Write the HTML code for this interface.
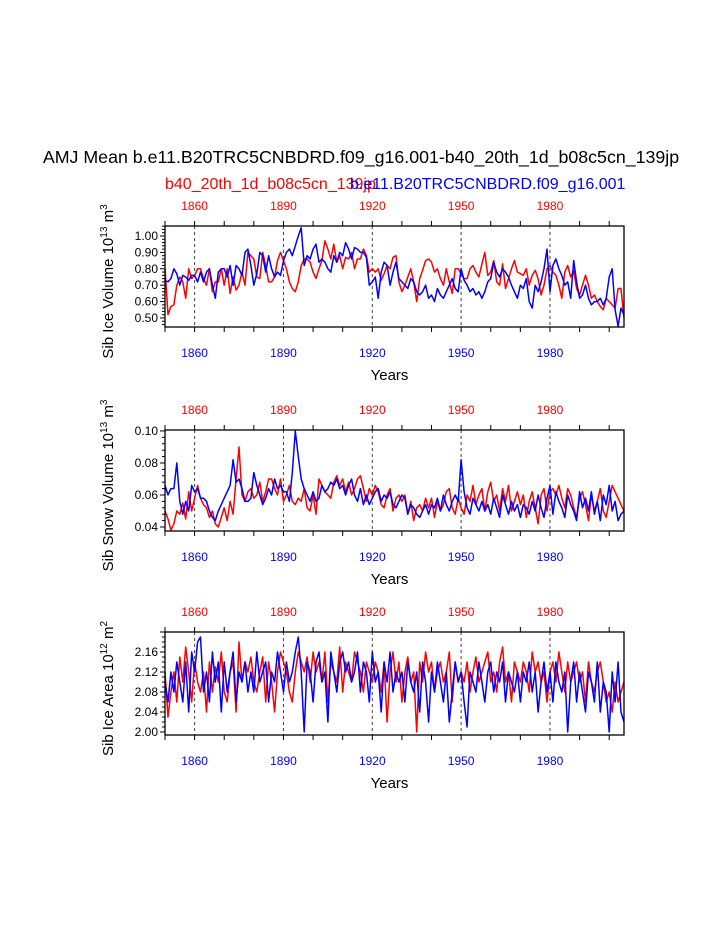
<!DOCTYPE html>
<html><head><meta charset="utf-8"><style>
html,body{margin:0;padding:0;background:#fff;}
svg{display:block;font-family:"Liberation Sans",Arial,sans-serif;}
</style></head><body>
<svg id="c" width="723" height="935" xmlns="http://www.w3.org/2000/svg">
<text x="361" y="163" text-anchor="middle" font-size="17.8">AMJ Mean b.e11.B20TRC5CNBDRD.f09_g16.001-b40_20th_1d_b08c5cn_139jp</text>
<text x="165" y="189" font-size="16" fill="#f00">b40_20th_1d_b08c5cn_139jp</text>
<text x="350" y="189" font-size="16" fill="#00f">b.e11.B20TRC5CNBDRD.f09_g16.001</text>
</svg>
<script>
const years = []; for (let y = 1850; y <= 2005; y++) years.push(y);
const topTickLabels = [1860, 1890, 1920, 1950, 1980];
const volRed = [0.80,0.52,0.57,0.58,0.70,0.75,0.72,0.62,0.80,0.74,
0.76,0.80,0.80,0.74,0.70,0.80,0.66,0.72,0.72,0.80,
0.70,0.80,0.65,0.75,0.67,0.70,0.78,0.70,0.90,0.88,
0.86,0.75,0.74,0.90,0.82,0.72,0.72,0.75,0.85,0.90,
0.85,0.80,0.72,0.68,0.66,0.72,0.82,0.86,0.86,0.84,
0.78,0.74,0.80,0.85,0.97,0.92,0.86,0.95,0.84,0.88,
0.80,0.87,0.86,0.90,0.80,0.86,0.86,0.92,0.88,0.78,
0.80,0.78,0.80,0.73,0.77,0.82,0.80,0.87,0.88,0.72,
0.66,0.70,0.75,0.80,0.72,0.60,0.74,0.79,0.85,0.86,
0.84,0.78,0.80,0.74,0.70,0.80,0.72,0.65,0.80,0.80,
0.77,0.74,0.74,0.80,0.82,0.78,0.75,0.83,0.90,0.76,
0.78,0.85,0.72,0.70,0.83,0.68,0.74,0.80,0.85,0.78,
0.77,0.76,0.80,0.70,0.76,0.79,0.74,0.64,0.70,0.80,
0.82,0.78,0.76,0.70,0.62,0.78,0.82,0.75,0.79,0.68,
0.64,0.70,0.76,0.70,0.62,0.64,0.60,0.57,0.55,0.62,
0.60,0.58,0.56,0.68,0.68,0.50];
const volBlue = [0.73,0.72,0.74,0.80,0.77,0.70,0.76,0.75,0.73,0.76,
0.76,0.72,0.78,0.72,0.78,0.80,0.70,0.62,0.78,0.80,
0.80,0.75,0.82,0.70,0.82,0.80,0.76,0.90,0.92,0.82,
0.70,0.77,0.90,0.88,0.78,0.88,0.80,0.75,0.78,0.76,
0.85,0.90,0.92,0.88,0.94,1.00,1.05,0.82,0.88,0.86,
0.92,0.95,0.84,0.86,0.84,0.80,0.78,0.88,0.84,0.90,
0.88,0.96,0.92,0.86,0.93,0.92,0.90,0.90,0.87,0.70,
0.72,0.75,0.62,0.78,0.84,0.82,0.70,0.78,0.84,0.74,
0.72,0.70,0.68,0.74,0.72,0.66,0.64,0.66,0.70,0.62,
0.64,0.60,0.68,0.64,0.62,0.66,0.70,0.74,0.68,0.66,
0.80,0.73,0.70,0.66,0.68,0.64,0.66,0.62,0.66,0.72,
0.74,0.84,0.78,0.75,0.80,0.78,0.75,0.70,0.66,0.62,
0.70,0.68,0.74,0.60,0.56,0.70,0.66,0.72,0.80,0.92,
0.66,0.82,0.86,0.80,0.76,0.70,0.72,0.62,0.85,0.72,
0.62,0.64,0.70,0.62,0.58,0.60,0.60,0.62,0.58,0.62,
0.75,0.80,0.55,0.45,0.56,0.52];
const snowRed = [0.050,0.045,0.038,0.042,0.050,0.048,0.055,0.045,0.062,0.050,
0.058,0.066,0.058,0.054,0.052,0.046,0.050,0.042,0.040,0.046,
0.052,0.044,0.056,0.048,0.070,0.090,0.060,0.056,0.062,0.064,
0.058,0.060,0.068,0.056,0.062,0.070,0.070,0.064,0.060,0.070,
0.056,0.060,0.066,0.056,0.054,0.058,0.056,0.064,0.052,0.050,
0.060,0.048,0.070,0.066,0.062,0.060,0.058,0.068,0.072,0.066,
0.070,0.062,0.068,0.060,0.064,0.070,0.072,0.064,0.056,0.064,
0.060,0.066,0.062,0.054,0.052,0.060,0.064,0.050,0.058,0.060,
0.056,0.060,0.048,0.056,0.044,0.052,0.054,0.050,0.058,0.052,
0.058,0.046,0.056,0.050,0.054,0.062,0.064,0.052,0.048,0.058,
0.052,0.048,0.060,0.056,0.066,0.054,0.060,0.064,0.050,0.062,
0.068,0.056,0.060,0.050,0.064,0.056,0.066,0.050,0.056,0.062,
0.054,0.060,0.046,0.056,0.062,0.052,0.042,0.060,0.064,0.050,
0.062,0.064,0.060,0.066,0.058,0.052,0.064,0.060,0.052,0.046,
0.058,0.062,0.054,0.044,0.060,0.050,0.056,0.064,0.050,0.046,
0.056,0.066,0.062,0.058,0.054,0.050];
const snowBlue = [0.066,0.060,0.064,0.064,0.080,0.056,0.048,0.056,0.050,0.066,
0.062,0.064,0.058,0.058,0.056,0.050,0.046,0.044,0.050,0.054,
0.058,0.062,0.066,0.082,0.068,0.070,0.064,0.056,0.056,0.058,
0.074,0.066,0.060,0.054,0.058,0.064,0.060,0.070,0.064,0.066,
0.062,0.062,0.056,0.074,0.100,0.084,0.070,0.064,0.060,0.056,
0.062,0.056,0.058,0.066,0.062,0.064,0.068,0.066,0.070,0.064,
0.066,0.060,0.066,0.070,0.060,0.056,0.064,0.054,0.060,0.054,
0.058,0.062,0.064,0.056,0.060,0.058,0.062,0.054,0.052,0.056,
0.060,0.058,0.048,0.054,0.052,0.048,0.046,0.050,0.054,0.048,
0.054,0.052,0.058,0.050,0.060,0.054,0.050,0.056,0.060,0.056,
0.082,0.062,0.052,0.048,0.058,0.054,0.050,0.056,0.050,0.054,
0.048,0.058,0.052,0.046,0.060,0.054,0.048,0.056,0.050,0.054,
0.046,0.054,0.052,0.048,0.056,0.050,0.060,0.052,0.046,0.058,
0.066,0.048,0.062,0.056,0.052,0.046,0.060,0.054,0.050,0.044,
0.062,0.052,0.058,0.050,0.062,0.048,0.056,0.044,0.060,0.054,
0.066,0.050,0.056,0.044,0.048,0.050];
const areaRed = [2.12,2.03,2.08,2.12,2.06,2.15,2.10,2.17,2.12,2.06,
2.14,2.10,2.08,2.12,2.04,2.14,2.08,2.13,2.10,2.16,
2.08,2.06,2.12,2.14,2.04,2.18,2.10,2.14,2.12,2.15,
2.10,2.08,2.12,2.15,2.06,2.14,2.10,2.04,2.12,2.16,
2.14,2.12,2.08,2.06,2.12,2.16,2.14,2.12,2.15,2.10,
2.16,2.12,2.14,2.10,2.16,2.06,2.14,2.12,2.10,2.17,
2.08,2.14,2.12,2.10,2.16,2.14,2.12,2.08,2.14,2.12,
2.10,2.14,2.12,2.08,2.14,2.02,2.12,2.16,2.10,2.14,
2.06,2.12,2.15,2.10,2.12,2.00,2.14,2.10,2.16,2.12,
2.14,2.08,2.12,2.14,2.10,2.12,2.16,2.06,2.14,2.10,
2.12,2.10,2.14,2.08,2.12,2.15,2.10,2.12,2.14,2.16,
2.10,2.12,2.08,2.14,2.17,2.10,2.12,2.06,2.14,2.12,
2.10,2.14,2.12,2.08,2.16,2.12,2.14,2.10,2.12,2.06,
2.12,2.14,2.10,2.16,2.12,2.08,2.14,2.10,2.12,2.14,
2.10,2.12,2.06,2.14,2.10,2.08,2.12,2.14,2.10,2.06,
2.08,2.04,2.10,2.06,2.08,2.10];
const areaBlue = [2.10,2.06,2.12,2.08,2.14,2.10,2.06,2.14,2.04,2.16,
2.12,2.18,2.19,2.08,2.12,2.06,2.16,2.10,2.14,2.04,
2.14,2.08,2.12,2.16,2.06,2.12,2.10,2.14,2.08,2.12,
2.08,2.16,2.10,2.12,2.14,2.06,2.12,2.10,2.16,2.12,
2.08,2.14,2.10,2.12,2.16,2.19,2.12,2.00,2.14,2.12,
2.06,2.14,2.16,2.10,2.12,2.02,2.16,2.12,2.08,2.14,
2.16,2.12,2.14,2.10,2.12,2.16,2.08,2.14,2.12,2.06,
2.16,2.10,2.12,2.04,2.14,2.10,2.16,2.08,2.12,2.10,
2.12,2.06,2.14,2.10,2.08,2.12,2.04,2.14,2.10,2.02,
2.12,2.08,2.14,2.10,2.06,2.12,2.02,2.08,2.14,2.10,
2.12,2.06,2.01,2.12,2.10,2.08,2.14,2.10,2.06,2.12,
2.14,2.08,2.12,2.10,2.14,2.06,2.12,2.10,2.08,2.12,
2.06,2.12,2.10,2.14,2.08,2.12,2.04,2.10,2.14,2.08,
2.12,2.06,2.14,2.10,2.08,2.12,2.00,2.10,2.14,2.06,
2.12,2.08,2.04,2.12,2.10,2.06,2.14,2.04,2.10,2.08,
2.00,2.12,2.06,2.14,2.04,2.02];

const svg = document.getElementById('c');
const NS = 'http://www.w3.org/2000/svg';
function mk(tag, attrs, parent) {
  const e = document.createElementNS(NS, tag);
  for (const k in attrs) e.setAttribute(k, attrs[k]);
  (parent || svg).appendChild(e);
  return e;
}
const X0 = 165, X1 = 624, Y_START = 1850, Y_END = 2005;
function xs(y) { return X0 + (y - Y_START) / (Y_END - Y_START) * (X1 - X0); }

const panels = [
  {name:'ice-volume', top:226, bot:327, vmin:0.445, vmax:1.061, major:0.10, minor:0.02, labels:[0.5,0.6,0.7,0.8,0.9,1.0], dec:2,
   title:'Sib Ice Volume 10', sup:'13', unit:' m', usup:'3', red:volRed, blue:volBlue},
  {name:'snow-volume', top:430, bot:531, vmin:0.0375, vmax:0.1006, major:0.02, minor:0.004, labels:[0.04,0.06,0.08,0.10], dec:2,
   title:'Sib Snow Volume 10', sup:'13', unit:' m', usup:'3', red:snowRed, blue:snowBlue},
  {name:'ice-area', top:632, bot:735, vmin:1.994, vmax:2.2, major:0.04, minor:0.01, labels:[2.00,2.04,2.08,2.12,2.16], dec:2,
   title:'Sib Ice Area 10', sup:'12', unit:' m', usup:'2', red:areaRed, blue:areaBlue}
];

panels.forEach(p => {
  const g = mk('g', {});
  
  
  const ys = v => p.bot - (v - p.vmin) / (p.vmax - p.vmin) * (p.bot - p.top);
  topTickLabels.forEach(t => {
    const l = mk('line', {x1:xs(t), x2:xs(t), y1:p.top, y2:p.bot, stroke:'#444', 'stroke-width':1, 'stroke-dasharray':'3,3'}, g);
    
    
  });
  [['red', p.red, '#f00'], ['blue', p.blue, '#00f']].forEach(([nm, arr, col]) => {
    const pts = arr.map((v, i) => xs(years[i]).toFixed(1) + ',' + ys(v).toFixed(1)).join(' ');
    const pl = mk('polyline', {points:pts, fill:'none', stroke:col, 'stroke-width':1.5, 'stroke-linejoin':'round'}, g);
    
    
  });
  const fr = mk('rect', {x:X0, y:p.top, width:X1 - X0, height:p.bot - p.top, fill:'none', stroke:'#000', 'stroke-width':1.3}, g);
  
  
  for (let y = 1850; y <= 2000; y += 10) {
    const x = xs(y);
    mk('line', {x1:x, x2:x, y1:p.top, y2:p.top - 5, stroke:'#000'}, g);
    mk('line', {x1:x, x2:x, y1:p.bot, y2:p.bot + 5, stroke:'#000'}, g);
  }
  topTickLabels.forEach(t => {
    const a = mk('text', {x:xs(t), y:p.top - 16, 'text-anchor':'middle', 'font-size':12, fill:'#f00'}, g);
    a.textContent = t;
    
    
    const b = mk('text', {x:xs(t), y:p.bot + 30, 'text-anchor':'middle', 'font-size':12, fill:'#00f'}, g);
    b.textContent = t;
    
    
  });
  const nMin = Math.ceil(p.vmin / p.minor - 1e-6), nMax = Math.floor(p.vmax / p.minor + 1e-6);
  for (let n = nMin; n <= nMax; n++) {
    const v = n * p.minor;
    const isMaj = Math.abs(v / p.major - Math.round(v / p.major)) < 1e-6;
    mk('line', {x1:X0, x2:X0 - (isMaj ? 5 : 3), y1:ys(v), y2:ys(v), stroke:'#000'}, g);
  }
  p.labels.forEach(v => {
    const t = mk('text', {x:X0 - 7, y:ys(v) + 4, 'text-anchor':'end', 'font-size':12}, g);
    t.textContent = v.toFixed(p.dec);
    
    
  });
  const xt = mk('text', {x:(X0 + X1) / 2 - 5, y:p.bot + 53, 'text-anchor':'middle', 'font-size':15}, g);
  xt.textContent = 'Years';
  
  
  const cy = (p.top + p.bot) / 2 + 5;
  const yt = mk('text', {x:0, y:0, 'text-anchor':'middle', 'font-size':15, transform:'translate(113,' + cy + ') rotate(-90)'}, g);
  
  
  const s1 = mk('tspan', {}, yt); s1.textContent = p.title;
  const s2 = mk('tspan', {dy:-6, 'font-size':10}, yt); s2.textContent = p.sup;
  const s3 = mk('tspan', {dy:6}, yt); s3.textContent = p.unit;
  const s4 = mk('tspan', {dy:-6, 'font-size':10}, yt); s4.textContent = p.usup;
});
</script>
</body></html>
